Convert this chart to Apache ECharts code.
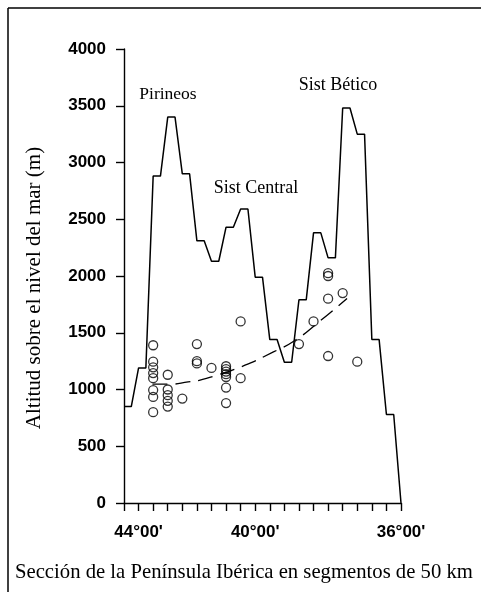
<!DOCTYPE html>
<html>
<head>
<meta charset="utf-8">
<script src="https://cdn.jsdelivr.net/npm/echarts@6/dist/echarts.min.js"></script>
<style>
html,body{margin:0;padding:0;background:#fff;}
#chart{width:481px;height:595px;}
</style>
</head>
<body>
<div id="chart"></div>
<script>
// Elevation profile: one value per 50 km segment (index 0..18), profile ends at 0 m at index 19
var segmentElevation = [850, 1190, 2880, 3400, 2900, 2310, 2130, 2430, 2590, 1990, 1440, 1240, 1790, 2380, 2160, 3480, 3250, 1440, 780];
var profileEndIndex = 19;
var profileEndValue = 0;

// Observed points (segment index, altitude m)
var pointX = [2, 2, 2, 2, 2, 2, 2, 2,
              3, 3, 3, 3, 3,
              4,
              5, 5, 5,
              6,
              7, 7, 7, 7, 7, 7, 7,
              8, 8,
              12,
              13,
              14, 14, 14, 14,
              15,
              16];
var pointY = [1390, 1245, 1195, 1145, 1100, 995, 935, 800,
              1130, 1000, 950, 900, 850,
              920,
              1400, 1250, 1230,
              1190,
              1205, 1180, 1158, 1135, 1110, 1017, 880,
              1600, 1100,
              1400,
              1600,
              2025, 2000, 1800, 1295,
              1850,
              1245];

// Fitted trend curve
var trendX = [1.95, 3.2, 4.4, 5.1, 6.6, 8.3, 10.25, 11.75, 13.45, 15.3];
var trendY = [1047, 1047, 1067, 1079, 1135, 1214, 1331, 1434, 1604, 1802];

// Axis tick labels (index -> label)
var xLabelIndex = [1, 9, 19];
var xLabelText = ["44°00'", "40°00'", "36°00'"];

var yTitle = "Altitud sobre el nivel del mar (m)";
var xTitle = "Sección de la Península Ibérica en segmentos de 50 km";
var rangeNames = ["Pirineos", "Sist Central", "Sist Bético"];

var profileData = [];
segmentElevation.forEach(function (v, i) {
  profileData.push([i, v]);
  profileData.push([i + 0.5, v]);
});
profileData.push([profileEndIndex, profileEndValue]);

var scatterData = pointX.map(function (x, i) { return [x, pointY[i]]; });
var trendData = trendX.map(function (x, i) { return [x, trendY[i]]; });

var chart = echarts.init(document.getElementById('chart'), null, {renderer: 'canvas'});
var serif = '"Liberation Serif", "Times New Roman", serif';
var sans = '"Liberation Sans", Arial, sans-serif';

chart.setOption({
  backgroundColor: '#fff',
  animation: false,
  grid: {left: 124, top: 49, right: 80, bottom: 92, containLabel: false},
  xAxis: {
    type: 'value', min: 0, max: 19, interval: 1,
    axisLine: {show: true, onZero: false, lineStyle: {color: '#000', width: 1.4}},
    axisTick: {show: true, length: 8, lineStyle: {color: '#000', width: 1.4}},
    splitLine: {show: false},
    axisLabel: {
      show: true, margin: 21, showMinLabel: true, showMaxLabel: true,
      color: '#000', fontFamily: sans, fontWeight: 'bold', fontSize: 17,
      formatter: function (v) {
        var k = xLabelIndex.indexOf(Math.round(v));
        return (k >= 0 && Math.abs(v - Math.round(v)) < 1e-6) ? xLabelText[k] : '';
      }
    }
  },
  yAxis: {
    type: 'value', min: 0, max: 4000, interval: 500,
    axisLine: {show: true, lineStyle: {color: '#000', width: 1.4}},
    axisTick: {show: true, length: 8, lineStyle: {color: '#000', width: 1.4}},
    splitLine: {show: false},
    axisLabel: {margin: 18, color: '#000', fontFamily: sans, fontWeight: 'bold', fontSize: 17,
      formatter: function (v) { return String(v); }}
  },
  series: [
    {
      type: 'line', data: profileData, symbol: 'none', silent: true,
      lineStyle: {color: '#000', width: 1.5}, z: 3
    },
    {
      type: 'line', data: trendData, symbol: 'none', smooth: true, silent: true,
      lineStyle: {color: '#000', width: 1.3, type: [15, 8]}, z: 4
    },
    {
      type: 'scatter', data: scatterData, symbol: 'circle', symbolSize: 9,
      itemStyle: {color: 'rgba(0,0,0,0)', borderColor: '#000', borderWidth: 1.3}, z: 5
    }
  ],
  graphic: [
    {type: 'line', shape: {x1: 8, y1: 8, x2: 481, y2: 8}, style: {stroke: '#000', lineWidth: 1.5}},
    {type: 'line', shape: {x1: 8, y1: 8, x2: 8, y2: 592}, style: {stroke: '#000', lineWidth: 1.5}},
    {type: 'text', x: 34, y: 288, rotation: Math.PI / 2,
      style: {text: yTitle, fill: '#000', font: '21px ' + serif, textAlign: 'center', textVerticalAlign: 'middle'}},
    {type: 'text', x: 15, y: 573,
      style: {text: xTitle, fill: '#000', font: '20.7px ' + serif, textAlign: 'left', textVerticalAlign: 'middle'}},
    {type: 'text', x: 168, y: 94,
      style: {text: rangeNames[0], fill: '#000', font: '17.5px ' + serif, textAlign: 'center', textVerticalAlign: 'middle'}},
    {type: 'text', x: 256, y: 188,
      style: {text: rangeNames[1], fill: '#000', font: '18px ' + serif, textAlign: 'center', textVerticalAlign: 'middle'}},
    {type: 'text', x: 338, y: 85,
      style: {text: rangeNames[2], fill: '#000', font: '18px ' + serif, textAlign: 'center', textVerticalAlign: 'middle'}}
  ]
});
</script>
</body>
</html>
